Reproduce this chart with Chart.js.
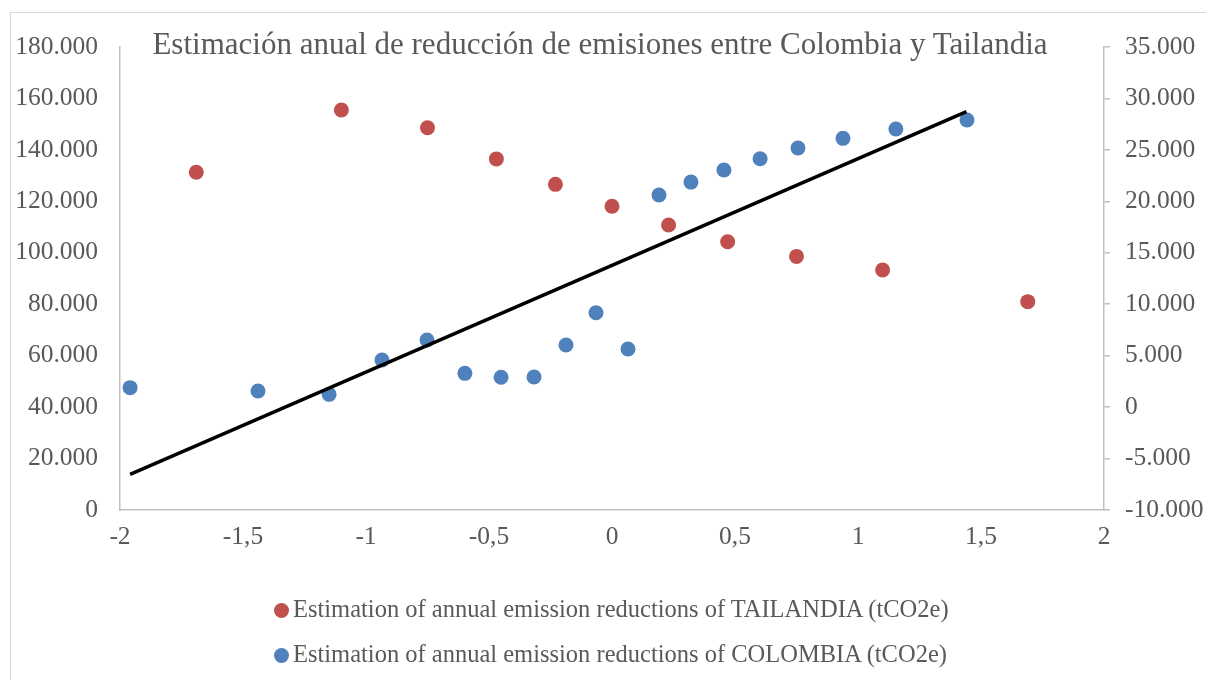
<!DOCTYPE html>
<html>
<head>
<meta charset="utf-8">
<script src="https://cdn.jsdelivr.net/npm/chart.js@4.4.1/dist/chart.umd.min.js"></script>
<style>
    body { margin: 0; background: #fff; }
    .wrap { position: relative; width: 1206px; height: 680px; overflow: hidden; font-family: "Liberation Serif", serif; color: #595959; }
    .frame { position: absolute; left: 10px; top: 12px; width: 1210px; height: 700px; border: 1.5px solid #d9d9d9; box-sizing: border-box; }
    canvas { position: absolute; left: 0; top: 0; }
    .title { position: absolute; left: 0; width: 1200px; top: 25px; text-align: center; font-size: 31px; line-height: 38px; white-space: nowrap; }
    .legend { position: absolute; left: 274px; font-size: 24.5px; line-height: 28px; white-space: nowrap; }
    .legend .dot { display: inline-block; width: 15px; height: 15px; border-radius: 50%; margin-right: 4px; vertical-align: -1px; }
</style>
</head>
<body>
<div class="wrap">
    <div class="frame"></div>
    <canvas id="chart" width="1206" height="680"></canvas>
    <div class="title">Estimación anual de reducción de emisiones entre Colombia y Tailandia</div>
    <div class="legend" style="top: 595px"><span class="dot" style="background:#C0504D"></span>Estimation of annual emission reductions of TAILANDIA (tCO2e)</div>
    <div class="legend" style="top: 640px"><span class="dot" style="background:#4F81BD"></span>Estimation of annual emission reductions of COLOMBIA (tCO2e)</div>
</div>
<script>
// Tailandia (left axis)
const xTailandia = [-1.69, -1.10, -0.75, -0.47, -0.23, 0, 0.23, 0.47, 0.75, 1.10, 1.69];
const yTailandia = [131300, 155500, 148600, 136500, 126600, 118100, 110800, 104300, 98600, 93300, 81000];

// Colombia (right axis)
const xColombia = [-1.959, -1.439, -1.150, -0.935, -0.752, -0.598, -0.451, -0.317, -0.187, -0.065,
    0.065, 0.191, 0.321, 0.455, 0.602, 0.756, 0.939, 1.154, 1.443];
const yColombia = [1890, 1560, 1240, 4580, 6520, 3280, 2900, 2930, 6030, 9170,
    5650, 20610, 21870, 23040, 24140, 25180, 26120, 27030, 27900];

// trend line ends (right axis)
const xTrend = [-1.959, 1.441];
const yTrend = [-6530, 28710];

const toPoints = (xs, ys) => xs.map((x, i) => ({x: x, y: ys[i]}));

// 180000 -> "180.000", 0.5 -> "0,5"
const fmtThousands = (v) => {
    const s = String(Math.abs(v)).replace(/\B(?=(\d{3})+(?!\d))/g, ".");
    return (v < 0 ? "-" : "") + s;
}
const fmtDecimal = (v) => String(v).replace(".", ",");

const textColor = "#595959";
const axisColor = "#bfbfbf";
const tickFont = {family: "Liberation Serif", size: 25.5};

new Chart(document.getElementById("chart"), {
    type: "scatter",
    data: {
        datasets: [{
            type: "line",
            label: "trend",
            data: toPoints(xTrend, yTrend),
            yAxisID: "y2",
            borderColor: "#000",
            borderWidth: 3.5,
            pointRadius: 0,
            fill: false,
            order: 0
        },
        {
            label: "Estimation of annual emission reductions of COLOMBIA (tCO2e)",
            data: toPoints(xColombia, yColombia),
            yAxisID: "y2",
            backgroundColor: "#4F81BD",
            borderWidth: 0,
            pointRadius: 7.5,
            order: 1
        },
        {
            label: "Estimation of annual emission reductions of TAILANDIA (tCO2e)",
            data: toPoints(xTailandia, yTailandia),
            yAxisID: "y",
            backgroundColor: "#C0504D",
            borderWidth: 0,
            pointRadius: 7.5,
            order: 2
        }]
    },
    options: {
        responsive: false,
        animation: false,
        layout: {padding: {top: 47, left: 0, right: 0, bottom: 0}},
        plugins: {
            legend: {display: false},
            tooltip: {enabled: false}
        },
        scales: {
            x: {
                type: "linear",
                min: -2,
                max: 2,
                grid: {display: false, drawTicks: false},
                border: {color: axisColor, width: 1.5},
                ticks: {
                    stepSize: 0.5,
                    color: textColor,
                    font: tickFont,
                    padding: 12,
                    maxRotation: 0,
                    callback: (v) => fmtDecimal(v)
                },
                afterFit: (scale) => { scale.height = 170; }
            },
            y: {
                position: "left",
                min: 0,
                max: 180000,
                grid: {display: false, drawTicks: false},
                border: {color: axisColor, width: 1.5},
                ticks: {
                    stepSize: 20000,
                    color: textColor,
                    font: tickFont,
                    padding: 22,
                    callback: (v) => fmtThousands(v)
                },
                afterFit: (scale) => { scale.width = 120; }
            },
            y2: {
                position: "right",
                min: -10000,
                max: 35000,
                grid: {display: true, drawOnChartArea: false, drawTicks: true, tickLength: 6, color: axisColor, lineWidth: 1.5},
                border: {color: axisColor, width: 1.5},
                ticks: {
                    stepSize: 5000,
                    color: textColor,
                    font: tickFont,
                    padding: 15,
                    callback: (v) => fmtThousands(v)
                },
                afterFit: (scale) => { scale.width = 102; }
            }
        }
    }
});
</script>
</body>
</html>
